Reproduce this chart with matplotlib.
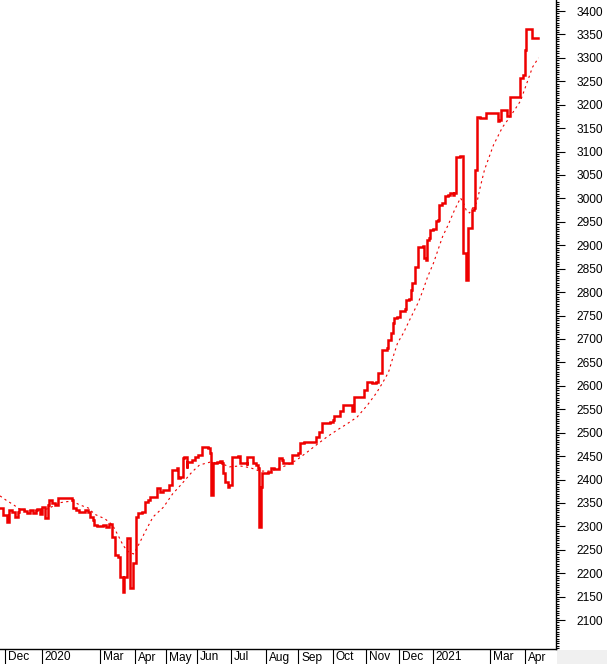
import matplotlib
matplotlib.use("Agg")
import matplotlib.pyplot as plt
import matplotlib.transforms as mtransforms
from matplotlib.ticker import MultipleLocator, FixedLocator
from matplotlib.patches import Rectangle

plt.rcParams['font.family'] = ['Liberation Sans', 'DejaVu Sans']

# ---- data (trading-day index, value) ----
price_day = [0, 2, 5, 6, 8, 10, 12, 13, 16, 18, 20, 22, 24, 25, 27, 28, 30, 32, 33, 35,
             37, 39, 41, 45, 48, 49, 51, 53, 57, 59, 60, 62, 63, 65,
             69, 71, 73, 75, 75, 77, 79, 80, 82, 83, 85, 85, 87, 87, 89, 89, 91, 92, 95,
             97, 99, 100, 105, 107, 109, 111, 113, 115, 118, 119, 120, 122, 123, 125, 125,
             128, 130, 132,
             135, 139, 140, 141, 141, 142, 145, 147, 148, 149, 150, 152, 153, 155, 155,
             159, 160, 165, 165, 168, 169, 171, 172, 173, 174, 175, 179, 181, 183, 186,
             188, 189, 193, 195, 199, 200,
             202, 203, 210, 211, 213, 215, 220, 222, 223, 227, 227, 229, 235, 235, 236,
             242, 243, 245, 248, 251, 252, 255, 255, 258, 259, 261, 262, 263, 265, 267,
             270, 271, 273, 274, 275,
             277, 279, 279, 282, 283, 284, 285, 286, 287, 289, 291, 292, 293, 295, 297,
             299, 300, 302, 303, 304, 307, 309, 309, 311, 311, 312, 315, 315, 316, 317, 318,
             320, 323, 324, 331, 332, 333, 334, 337, 338, 339, 340, 346, 347, 349, 350,
             351, 355, 355, 359]
price_val = [2339, 2324, 2309, 2335, 2331, 2320, 2331, 2337, 2333, 2328, 2335, 2328, 2335,
             2337, 2326, 2341, 2318, 2346, 2356, 2350,
             2346, 2360, 2360, 2360, 2356, 2339, 2335, 2331, 2335, 2331, 2320, 2314, 2303, 2301,
             2303, 2299, 2305, 2299, 2277, 2239, 2235, 2192, 2160, 2192, 2271, 2275, 2250,
             2168, 2168, 2222, 2320, 2328, 2331,
             2352, 2357, 2363, 2382, 2373, 2378, 2378, 2388, 2420, 2424, 2403, 2405, 2446,
             2448, 2424, 2437, 2442, 2448, 2452,
             2469, 2467, 2456, 2435, 2367, 2435, 2437, 2440, 2435, 2414, 2395, 2384, 2388,
             2435, 2448,
             2450, 2435, 2431, 2448, 2448, 2435, 2431, 2425, 2299, 2384, 2414, 2416, 2424,
             2422, 2446, 2442, 2435, 2435, 2452, 2457, 2478,
             2478, 2480, 2480, 2491, 2501, 2521, 2523, 2527, 2536, 2538, 2546, 2559, 2559,
             2546, 2576,
             2576, 2591, 2608, 2606, 2608, 2627, 2627, 2676, 2681, 2698, 2713, 2734, 2745,
             2747, 2760,
             2764, 2783, 2785, 2804, 2819,
             2854, 2856, 2896, 2898, 2873, 2869, 2911, 2915, 2933, 2935, 2952, 2954, 2986,
             2990, 3005,
             3007, 3012, 3007, 3012, 3088, 3091, 3088, 2884, 2881, 2826, 2937, 2937, 2975,
             2980, 3061, 3174,
             3172, 3172, 3182, 3182, 3165, 3167, 3189, 3189, 3176, 3176, 3216, 3216, 3257,
             3263, 3317,
             3362, 3362, 3342, 3342]

ma_day = [0, 4, 9, 13, 20, 27, 33, 39, 43, 48, 53, 59, 63, 70, 75, 79, 82, 85, 89, 92,
          97, 102, 109, 115, 121, 128, 133, 140, 147, 153, 160, 167, 173, 180, 187, 193,
          198, 205, 211, 218, 225, 231, 238, 245, 251, 255, 259, 262, 265, 269, 273, 279,
          282, 285, 289, 292, 295, 299, 303, 307, 309, 311, 313, 315, 318, 320, 323, 329,
          335, 340, 347, 351, 355, 359]
ma_val = [2365, 2356, 2346, 2337, 2333, 2333, 2339, 2350, 2352, 2354, 2346, 2339, 2326,
          2316, 2303, 2279, 2260, 2247, 2241, 2258,
          2290, 2320, 2341, 2369, 2390, 2416, 2431, 2437, 2435, 2427, 2429, 2425, 2418,
          2418, 2425, 2433,
          2442, 2459, 2474, 2491, 2506, 2518, 2533, 2559, 2585, 2606, 2629, 2661, 2691,
          2713, 2740, 2779,
          2804, 2832, 2862, 2890, 2918, 2945, 2975, 3001, 2990, 2973, 2969, 2979, 2992,
          3022, 3061, 3114,
          3152, 3174, 3208, 3244, 3280, 3300]

month_labels = ["Dec", "2020", "Mar", "Apr", "May", "Jun", "Jul", "Aug", "Sep", "Oct",
                "Nov", "Dec", "2021", "Mar", "Apr"]
month_pos = [3.6, 27.9, 66.6, 90.3, 110.5, 131.1, 153.8, 177.6, 198.7, 222.0,
             244.0, 265.9, 288.5, 326.5, 350.0]

# ---- figure ----
W, H = 607, 664
fig = plt.figure(figsize=(W / 100, H / 100), dpi=100)
ax_right_px = 556
ax_bottom_px = 649
ax = fig.add_axes([0, (H - ax_bottom_px) / H, ax_right_px / W, ax_bottom_px / H])

red = '#ee0000'
ax.plot(ma_day, ma_val, color=red, lw=0.8, dashes=(2, 3))
ax.plot(price_day, price_val, color=red, lw=1.8, drawstyle='steps-post',
        solid_joinstyle='miter')

ax.set_xlim(0, ax_right_px / 1.5)
ax.set_ylim(2038.2, 3423.5)

for s in ['left', 'top']:
    ax.spines[s].set_visible(False)
ax.spines['right'].set_color('black')
ax.spines['bottom'].set_color('black')
ax.spines['right'].set_linewidth(1.0)
ax.spines['bottom'].set_linewidth(1.0)

ax.yaxis.tick_right()
ax.yaxis.set_major_locator(FixedLocator(list(range(2100, 3401, 50))))
ax.yaxis.set_minor_locator(MultipleLocator(5))
ax.tick_params(axis='y', which='major', direction='out', length=6.5, width=0.8,
               pad=8, labelsize=8.6, colors='black')
ax.tick_params(axis='y', which='minor', direction='out', length=2.4, width=0.8)

ax.set_xticks(month_pos, month_labels)
ax.tick_params(axis='x', which='major', direction='out', length=10.8, width=0.8,
               pad=0, labelsize=8.6)
off = mtransforms.ScaledTranslation(0.03, 0.125, fig.dpi_scale_trans)
for lbl in ax.get_xticklabels():
    lbl.set_ha('left')
    lbl.set_va('top')
    lbl.set_transform(lbl.get_transform() + off)

fig.patches.append(Rectangle(((ax_right_px + 1) / W, 0), 1, (H - ax_bottom_px - 1) / H,
                             transform=fig.transFigure, facecolor='#f0f0f0',
                             edgecolor='none', zorder=-1))

fig.savefig('out.png', dpi=100)
